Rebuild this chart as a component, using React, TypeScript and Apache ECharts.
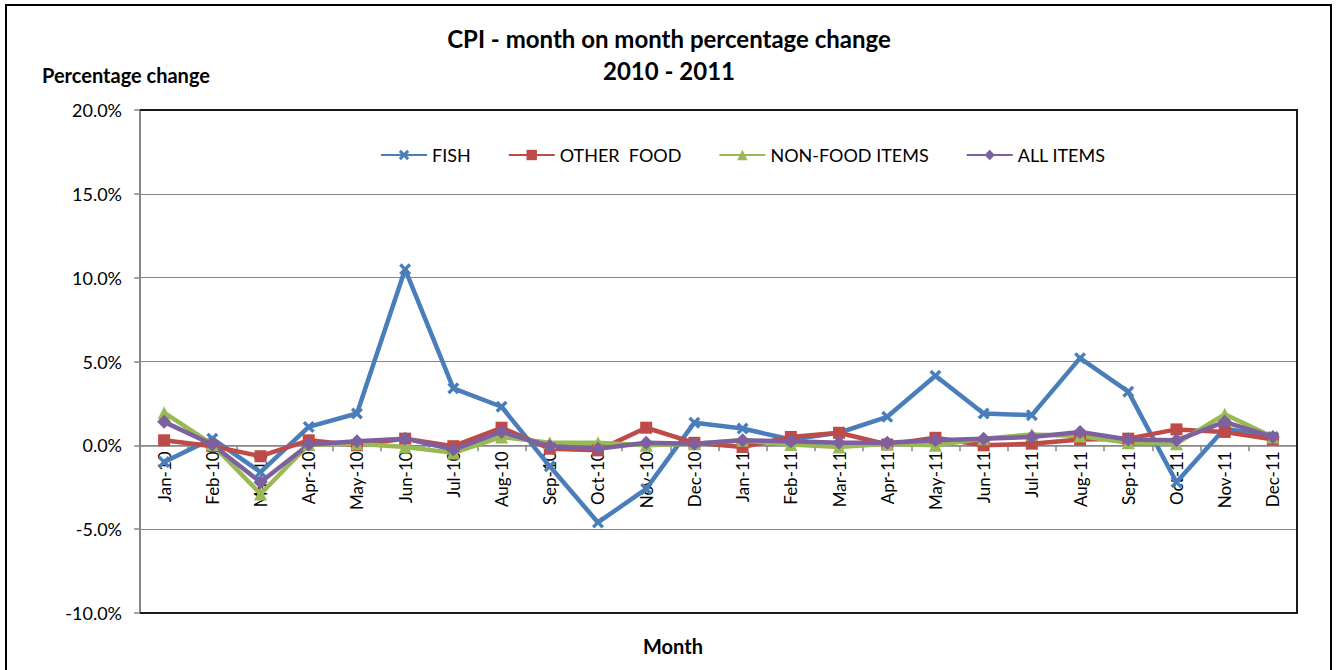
import React, { useEffect, useRef } from "react";
import * as echarts from "echarts";

const months = [
  "Jan-10", "Feb-10", "Mar-10", "Apr-10", "May-10", "Jun-10", "Jul-10", "Aug-10",
  "Sep-10", "Oct-10", "Nov-10", "Dec-10", "Jan-11", "Feb-11", "Mar-11", "Apr-11",
  "May-11", "Jun-11", "Jul-11", "Aug-11", "Sep-11", "Oct-11", "Nov-11", "Dec-11",
];

const fish = [
  -1.0, 0.4, -1.6, 1.1, 1.9, 10.5, 3.4, 2.3, -1.25, -4.6, -2.6, 1.35,
  1.0, 0.35, 0.75, 1.7, 4.15, 1.9, 1.8, 5.2, 3.2, -2.2, 1.0, 0.5,
];
const otherFood = [
  0.3, -0.05, -0.65, 0.3, 0.0, 0.4, -0.05, 1.05, -0.2, -0.3, 1.05, 0.15,
  -0.1, 0.5, 0.75, 0.05, 0.45, 0.0, 0.1, 0.35, 0.4, 0.95, 0.8, 0.35,
];
const nonFood = [
  1.95, 0.05, -2.9, 0.05, 0.1, -0.1, -0.45, 0.5, 0.15, 0.15, 0.0, 0.1,
  0.3, 0.05, -0.1, 0.1, 0.0, 0.4, 0.65, 0.55, 0.15, 0.1, 1.85, 0.5,
];
const allItems = [
  1.4, 0.05, -2.2, 0.05, 0.25, 0.4, -0.25, 0.8, -0.05, -0.2, 0.15, 0.1,
  0.3, 0.25, 0.15, 0.15, 0.3, 0.4, 0.5, 0.8, 0.35, 0.3, 1.4, 0.5,
];

const yTicks = { min: -10, max: 20, interval: 5 };

const FONT = "Lato";
const xSymbol =
  "path://M2,0 L5,3 L8,0 L10,2 L7,5 L10,8 L8,10 L5,7 L2,10 L0,8 L3,5 L0,2 Z";

const GRID_TOP = 110;
const GRID_BOTTOM_Y = 613;
const GRID_LEFT = 140;
const GRID_RIGHT_X = 1297;

export default function App() {
  const ref = useRef<HTMLDivElement>(null);

  useEffect(() => {
    if (!ref.current) return;
    const chart = echarts.init(ref.current, undefined, { renderer: "svg" });

    const mk = (name: string, data: number[], color: string, symbol: string, size: number) => ({
      name,
      type: "line",
      data,
      symbol,
      symbolSize: size,
      lineStyle: { color, width: 4.5 },
      itemStyle: { color, borderColor: color, borderWidth: 0 },
      z: 3,
    });

    // distance from plot bottom to the zero line, from the value axis range
    const zeroOffset =
      ((0 - yTicks.min) / (yTicks.max - yTicks.min)) * (GRID_BOTTOM_Y - GRID_TOP);

    chart.setOption({
      animation: false,
      backgroundColor: "#ffffff",
      textStyle: { fontFamily: FONT },
      title: [
        {
          text: "CPI - month on month percentage change\n2010 - 2011",
          left: "center",
          top: 17,
          textStyle: { fontFamily: FONT, fontWeight: "bold", fontSize: 24, lineHeight: 32, color: "#000" },
        },
        {
          text: "Percentage change",
          left: 37,
          top: 60,
          textStyle: { fontFamily: FONT, fontWeight: "bold", fontSize: 20, color: "#000" },
        },
        {
          text: "Month",
          left: 638,
          top: 631,
          textStyle: { fontFamily: FONT, fontWeight: "bold", fontSize: 20, color: "#000" },
        },
      ],
      legend: {
        left: 375,
        top: 141,
        itemWidth: 46,
        itemHeight: 13,
        itemGap: 37,
        textStyle: { fontFamily: FONT, fontSize: 18, color: "#000" },
        data: ["FISH", "OTHER  FOOD", "NON-FOOD ITEMS", "ALL ITEMS"],
      },
      grid: {
        left: GRID_LEFT,
        right: 1338 - GRID_RIGHT_X,
        top: GRID_TOP,
        bottom: 670 - GRID_BOTTOM_Y,
        containLabel: false,
      },
      xAxis: {
        type: "category",
        data: months,
        boundaryGap: true,
        offset: -zeroOffset,
        axisLine: { onZero: false, lineStyle: { color: "#868686", width: 1.5 } },
        axisTick: { show: true, length: 6, alignWithLabel: false, lineStyle: { color: "#868686", width: 1.5 } },
        axisLabel: { rotate: 90, margin: 6, fontFamily: FONT, fontSize: 17, color: "#000", interval: 0 },
        splitLine: { show: false },
      },
      yAxis: {
        type: "value",
        min: yTicks.min,
        max: yTicks.max,
        interval: yTicks.interval,
        axisLine: { show: true, lineStyle: { color: "#868686", width: 2 } },
        axisTick: { show: true, length: 6, lineStyle: { color: "#868686", width: 1.5 } },
        axisLabel: {
          margin: 18,
          fontFamily: FONT,
          fontSize: 18,
          color: "#000",
          formatter: (v: number) => v.toFixed(1) + "%",
        },
        splitLine: { show: true, lineStyle: { color: "#868686", width: 1.2 } },
      },
      graphic: [
        {
          type: "polyline",
          shape: {
            points: [
              [GRID_LEFT, GRID_TOP],
              [GRID_RIGHT_X, GRID_TOP],
              [GRID_RIGHT_X, GRID_BOTTOM_Y],
              [GRID_LEFT, GRID_BOTTOM_Y],
            ],
          },
          style: { stroke: "#1a1a1a", lineWidth: 2, fill: "none" },
          z: 10,
          silent: true,
        },
        {
          type: "rect",
          shape: { x: 6, y: 5, width: 1325, height: 690 },
          style: { stroke: "#000", lineWidth: 2, fill: "none" },
          z: 10,
          silent: true,
        },
      ],
      series: [
        mk("FISH", fish, "#4A7EBB", xSymbol, 12),
        mk("OTHER  FOOD", otherFood, "#BE4B48", "rect", 12),
        mk("NON-FOOD ITEMS", nonFood, "#98B954", "triangle", 13),
        mk("ALL ITEMS", allItems, "#7D60A0", "diamond", 14),
      ],
    });

    return () => chart.dispose();
  }, []);

  return (
    <div
      ref={ref}
      style={{ position: "fixed", left: 0, top: 0, width: 1338, height: 670, background: "#fff" }}
    />
  );
}
